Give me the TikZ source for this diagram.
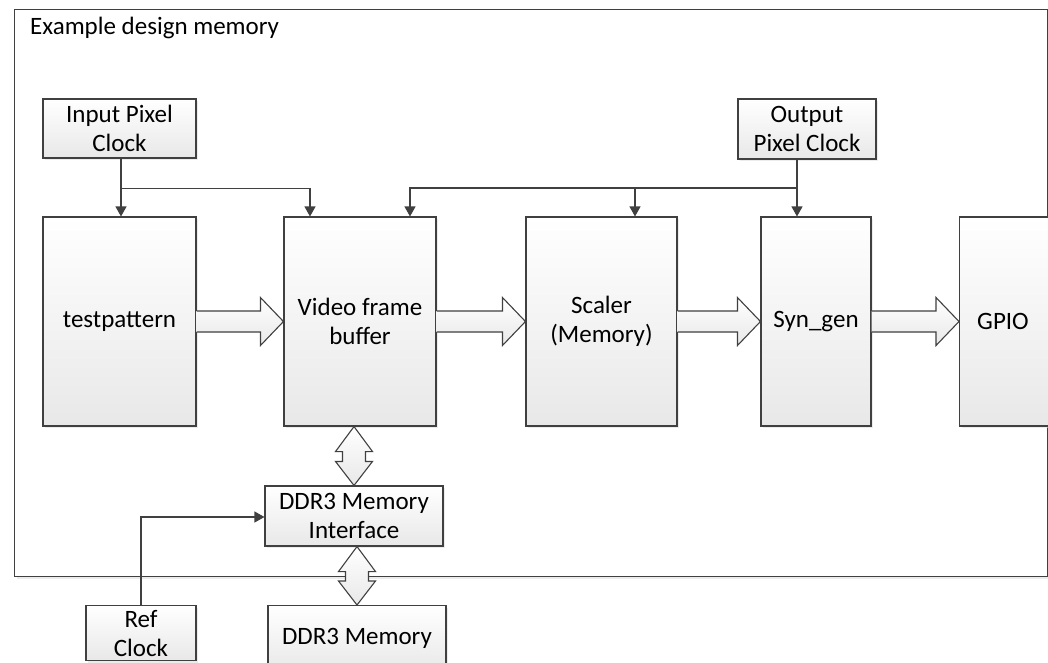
\documentclass[tikz,border=0pt]{standalone}
\usepackage{fontspec}
\setmainfont{Carlito}
\usetikzlibrary{calc,shadows,arrows.meta}
\definecolor{edge}{HTML}{404040}
\tikzset{
  box/.style={draw=edge, line width=1.1pt, top color=white, bottom color=black!9,
    align=center, inner sep=0pt, font=\fontsize{25}{29}\selectfont,
    drop shadow={shadow xshift=2pt, shadow yshift=-2pt, fill=black!12, opacity=0.6}},
  clk/.style={draw=edge, line width=1.1pt, -{Triangle[length=10pt,width=11pt]}},
  wire/.style={draw=edge, line width=1.1pt},
  blockarrow/.style={draw=edge, line width=1.1pt, top color=white, bottom color=black!9, line join=miter},
}
\newcommand{\harrowbetween}[2]{%
  \path[blockarrow] let \p1=(#1.east), \p2=(#2.west) in
    (\x1,\y1+10.5pt) -- (\x2-23pt,\y1+10.5pt) -- (\x2-23pt,\y1+24pt) -- (\x2,\y1)
    -- (\x2-23pt,\y1-24pt) -- (\x2-23pt,\y1-10.5pt) -- (\x1,\y1-10.5pt);}
\newcommand{\dvarrow}[2]{%
  \path[blockarrow] let \p1=(#1.south), \p2=(#2.north) in
    (\x2,\y1) -- (\x2+18.5pt,\y1-25pt) -- (\x2+11.5pt,\y1-25pt) -- (\x2+11.5pt,\y2+24pt)
    -- (\x2+18.5pt,\y2+24pt) -- (\x2,\y2) -- (\x2-18.5pt,\y2+24pt) -- (\x2-11.5pt,\y2+24pt)
    -- (\x2-11.5pt,\y1-25pt) -- (\x2-18.5pt,\y1-25pt) -- cycle;}
\begin{document}
\begin{tikzpicture}[x=1pt,y=-1pt]
\useasboundingbox (0,0) rectangle (1048,662);
% outer frame
\node[draw=edge, line width=1.1pt, minimum width=1033pt, minimum height=567pt, inner sep=0pt,
  anchor=north west, drop shadow={shadow xshift=2pt, shadow yshift=-2pt, fill=black!12, opacity=0.6}, fill=white]
  (frame) at (14,9) {};
\node[anchor=base west, inner sep=0pt, font=\fontsize{25}{29}\selectfont] (title) at (30,34) {Example design memory};
% boxes
\node[box, minimum width=153pt, minimum height=59pt] (ipc) at (119.5,128.5) {Input Pixel\\Clock};
\node[box, minimum width=138pt, minimum height=60pt] (opc) at (807,129) {Output\\Pixel Clock};
\node[box, minimum width=153pt, minimum height=209pt] (tp) at (119.5,321.5) {testpattern};
\node[box, minimum width=152pt, minimum height=209pt] (vfb) at (360,321.5) {Video frame\\buffer};
\node[box, minimum width=151pt, minimum height=209pt] (sc) at (601.5,321.5) {Scaler\\(Memory)};
\node[box, minimum width=110pt, minimum height=209pt] (sg) at (816,321.5) {Syn\_gen};
\node[box, minimum width=100pt, minimum height=209pt, anchor=west] (gpio) at (959,321.5) {};
\node[font=\fontsize{25}{29}\selectfont] (gpiot) at (1003,321.5) {GPIO};
\node[box, minimum width=178pt, minimum height=60pt] (ddr) at (354,516) {DDR3 Memory\\Interface};
\node[box, minimum width=178pt, minimum height=66pt, anchor=north] (mem) at (357,605) {DDR3 Memory};
\node[box, minimum width=110pt, minimum height=55pt, anchor=north] (ref) at (141,605) {Ref\\Clock};
% frame right border redrawn over gpio
\draw[wire] (frame.north east) -- (frame.south east);
% block arrows
\harrowbetween{tp}{vfb}
\harrowbetween{vfb}{sc}
\harrowbetween{sc}{sg}
\harrowbetween{sg}{gpio}
\dvarrow{vfb}{ddr}
\dvarrow{ddr}{mem}
% input clock
\coordinate (ib) at ($(ipc.south)+(1.5,30)$);
\coordinate (ia) at (310,188);
\draw[clk] ($(ipc.south)+(1.5,0)$) -- ($(tp.north)+(1.5,0)$);
\draw[clk] (ib) -- (ia |- ib) -- (ia |- vfb.north);
% output clock
\coordinate (ob) at (797,188);
\coordinate (oa) at (410,188);
\coordinate (os) at (635,188);
\draw[clk] (opc.south -| ob) -- (ob |- sg.north);
\draw[clk] (ob) -- (oa) -- (oa |- vfb.north);
\draw[clk] (os) -- (os |- sc.north);
% ref clock
\coordinate (rb) at (141,517);
\draw[clk] (ref.north) -- (rb) -- (rb -| ddr.west);
\end{tikzpicture}
\end{document}
